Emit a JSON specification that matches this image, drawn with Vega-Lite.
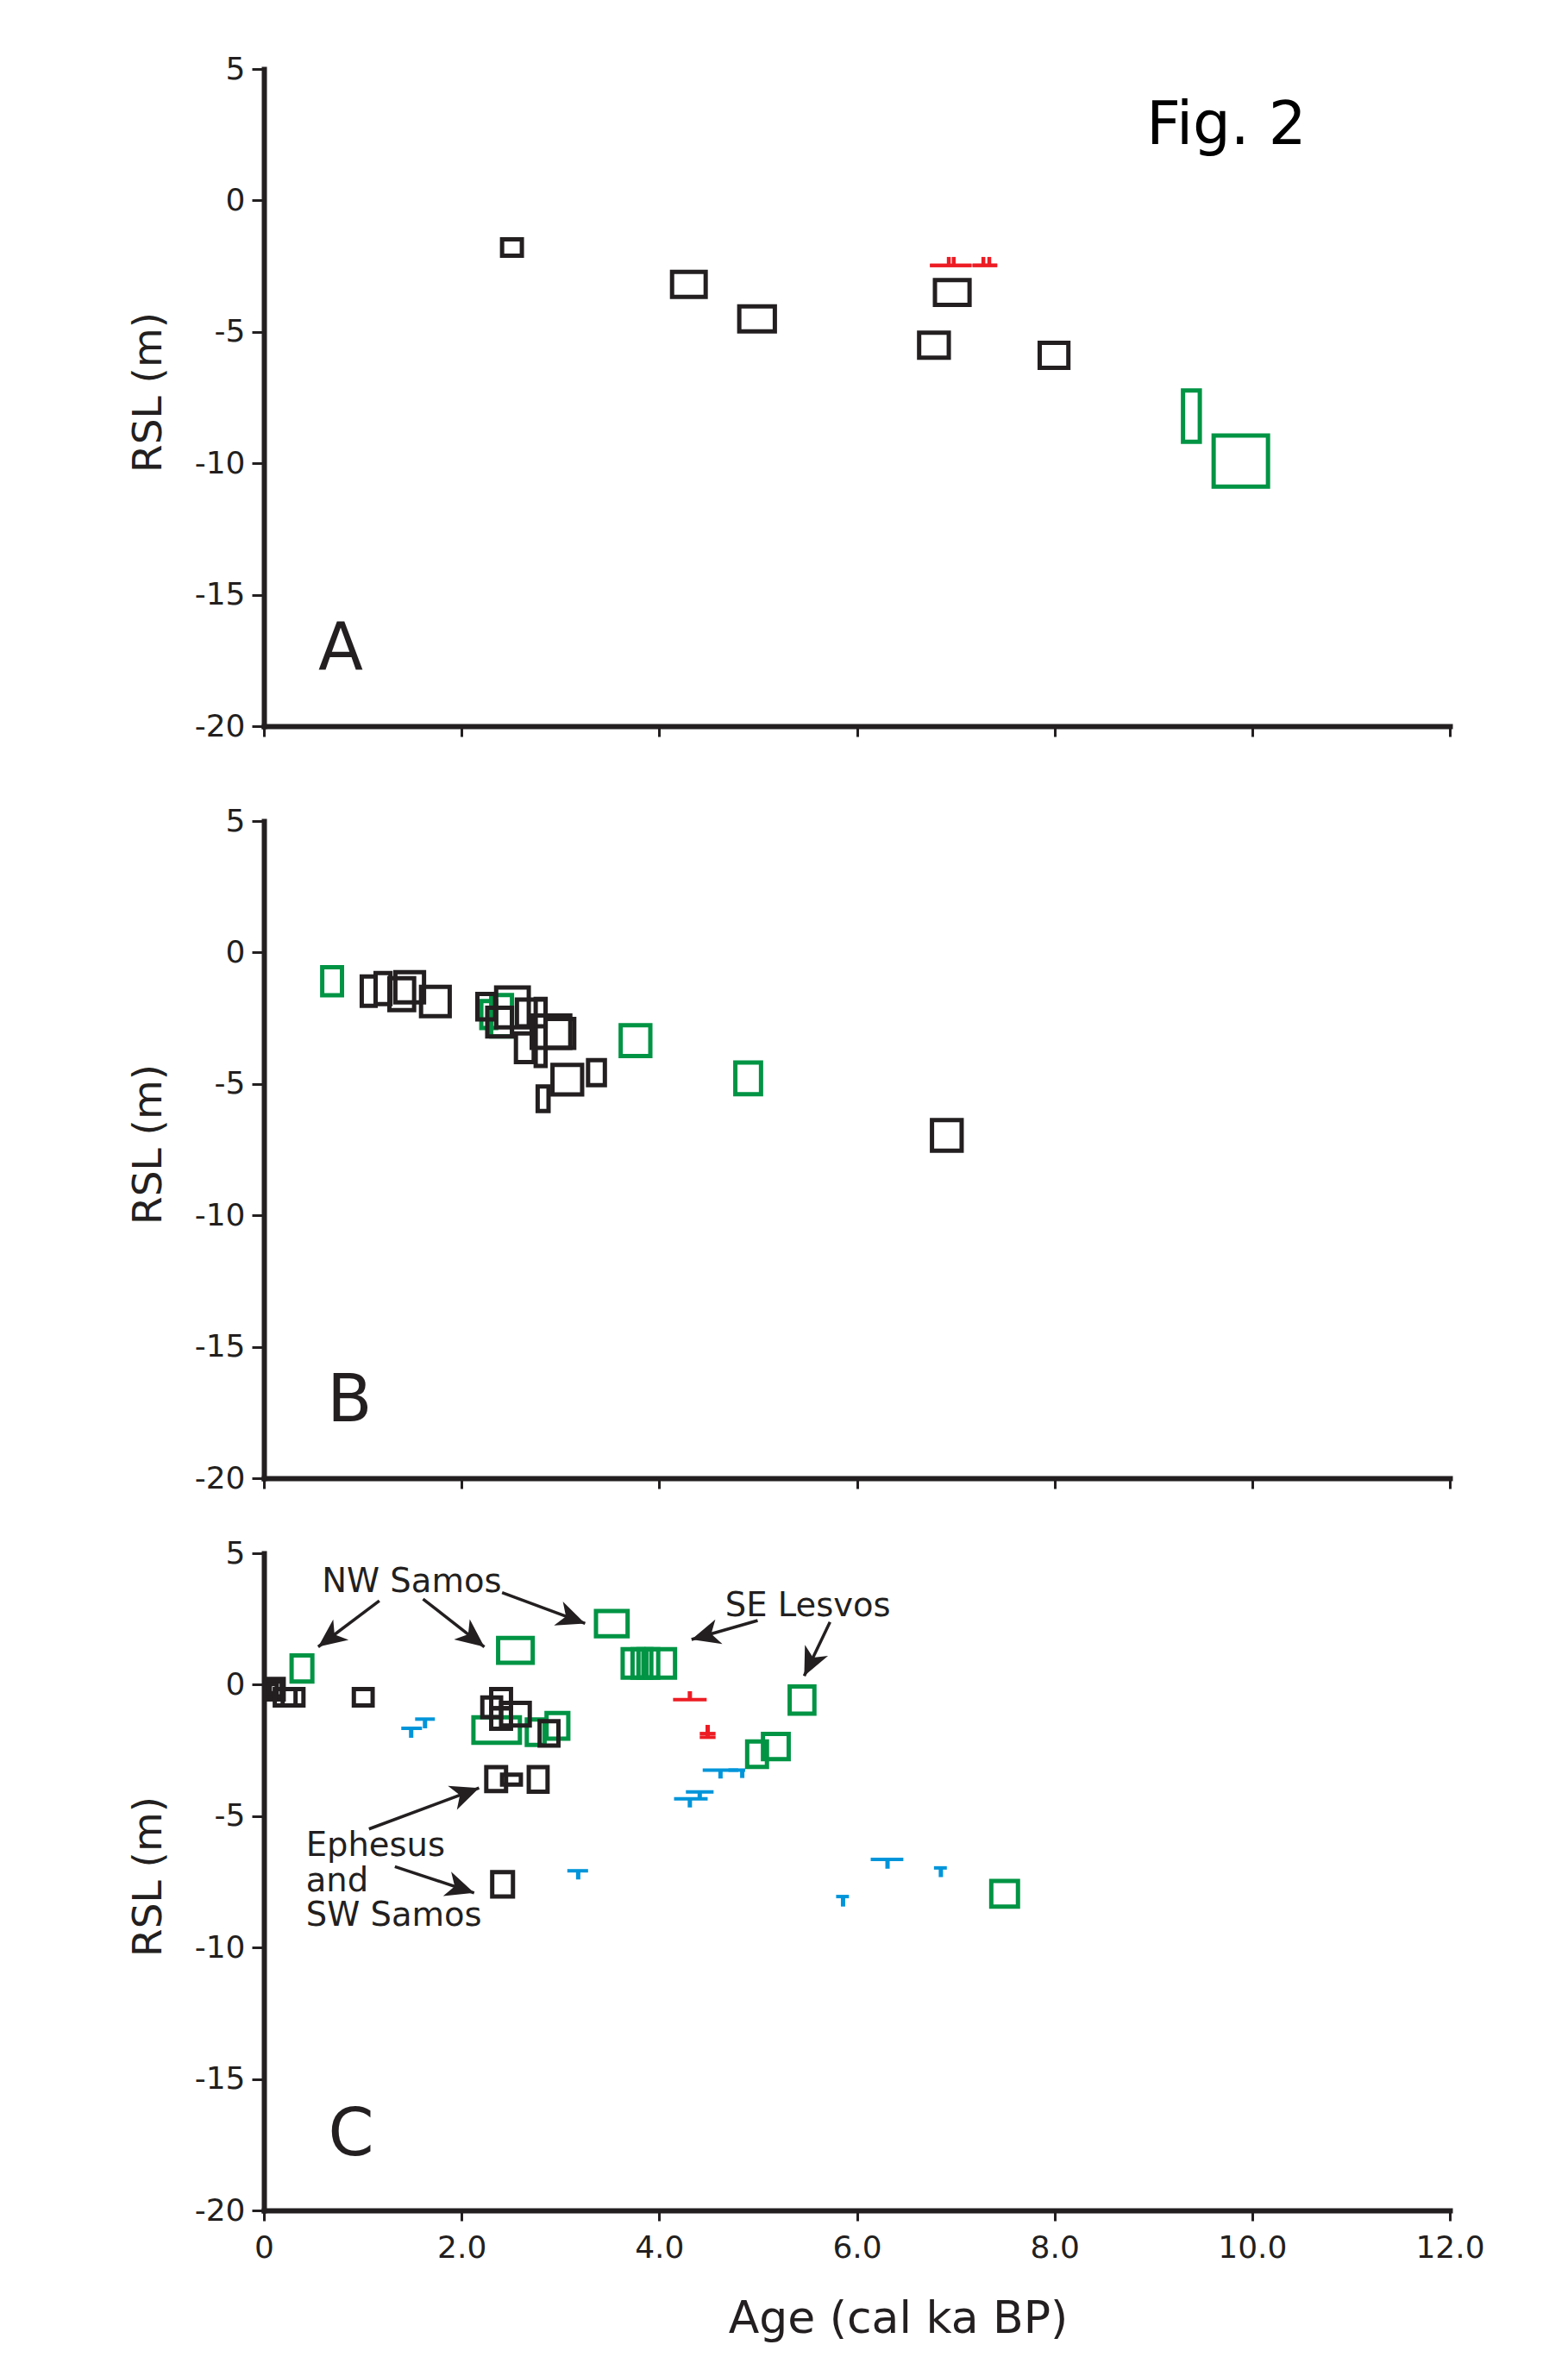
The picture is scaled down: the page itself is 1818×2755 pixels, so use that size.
{
  "$schema": "https://vega.github.io/schema/vega-lite/v6.json",
  "background": "white",
  "padding": {"left": 148, "top": 62, "right": 5, "bottom": 5},
  "spacing": 51,
  "datasets": {
    "boxes": [
      {"p":"A","g":"black","a0":2.41,"a1":2.61,"r0":-1.48,"r1":-2.10},
      {"p":"A","g":"black","a0":4.13,"a1":4.47,"r0":-2.72,"r1":-3.67},
      {"p":"A","g":"black","a0":4.81,"a1":5.17,"r0":-4.03,"r1":-4.98},
      {"p":"A","g":"black","a0":6.79,"a1":7.14,"r0":-3.03,"r1":-3.97},
      {"p":"A","g":"black","a0":6.63,"a1":6.93,"r0":-5.03,"r1":-5.98},
      {"p":"A","g":"black","a0":7.85,"a1":8.14,"r0":-5.42,"r1":-6.37},
      {"p":"A","g":"green","a0":9.30,"a1":9.47,"r0":-7.23,"r1":-9.18},
      {"p":"A","g":"green","a0":9.61,"a1":10.16,"r0":-8.94,"r1":-10.89},
      {"p":"B","g":"green","a0":0.59,"a1":0.79,"r0":-0.56,"r1":-1.63},
      {"p":"B","g":"green","a0":2.20,"a1":2.35,"r0":-1.85,"r1":-2.87},
      {"p":"B","g":"green","a0":2.30,"a1":2.51,"r0":-1.62,"r1":-3.19},
      {"p":"B","g":"green","a0":3.61,"a1":3.91,"r0":-2.77,"r1":-3.94},
      {"p":"B","g":"green","a0":4.77,"a1":5.03,"r0":-4.19,"r1":-5.39},
      {"p":"B","g":"black","a0":0.99,"a1":1.13,"r0":-0.91,"r1":-2.03},
      {"p":"B","g":"black","a0":1.13,"a1":1.28,"r0":-0.78,"r1":-1.96},
      {"p":"B","g":"black","a0":1.27,"a1":1.52,"r0":-0.98,"r1":-2.19},
      {"p":"B","g":"black","a0":1.33,"a1":1.62,"r0":-0.75,"r1":-1.90},
      {"p":"B","g":"black","a0":1.59,"a1":1.88,"r0":-1.31,"r1":-2.42},
      {"p":"B","g":"black","a0":2.16,"a1":2.34,"r0":-1.58,"r1":-2.55},
      {"p":"B","g":"black","a0":2.35,"a1":2.68,"r0":-1.33,"r1":-2.85},
      {"p":"B","g":"black","a0":2.26,"a1":2.51,"r0":-2.10,"r1":-3.19},
      {"p":"B","g":"black","a0":2.56,"a1":2.85,"r0":-1.79,"r1":-2.81},
      {"p":"B","g":"black","a0":2.75,"a1":2.85,"r0":-1.77,"r1":-4.32},
      {"p":"B","g":"black","a0":2.55,"a1":2.73,"r0":-3.08,"r1":-4.17},
      {"p":"B","g":"black","a0":2.71,"a1":3.10,"r0":-2.40,"r1":-3.63},
      {"p":"B","g":"black","a0":2.85,"a1":3.14,"r0":-2.53,"r1":-3.63},
      {"p":"B","g":"black","a0":2.92,"a1":3.22,"r0":-4.28,"r1":-5.40},
      {"p":"B","g":"black","a0":3.28,"a1":3.45,"r0":-4.10,"r1":-5.05},
      {"p":"B","g":"black","a0":2.77,"a1":2.88,"r0":-5.10,"r1":-6.03},
      {"p":"B","g":"black","a0":6.76,"a1":7.06,"r0":-6.38,"r1":-7.54},
      {"p":"C","g":"green","a0":0.28,"a1":0.49,"r0":1.11,"r1":0.12},
      {"p":"C","g":"green","a0":2.37,"a1":2.72,"r0":1.78,"r1":0.83},
      {"p":"C","g":"green","a0":3.36,"a1":3.68,"r0":2.80,"r1":1.84},
      {"p":"C","g":"green","a0":3.63,"a1":3.84,"r0":1.35,"r1":0.27},
      {"p":"C","g":"green","a0":3.73,"a1":3.92,"r0":1.35,"r1":0.27},
      {"p":"C","g":"green","a0":3.79,"a1":3.99,"r0":1.35,"r1":0.27},
      {"p":"C","g":"green","a0":3.87,"a1":4.16,"r0":1.35,"r1":0.27},
      {"p":"C","g":"green","a0":2.12,"a1":2.59,"r0":-1.24,"r1":-2.21},
      {"p":"C","g":"green","a0":2.66,"a1":2.84,"r0":-1.32,"r1":-2.29},
      {"p":"C","g":"green","a0":2.86,"a1":3.08,"r0":-1.08,"r1":-2.05},
      {"p":"C","g":"green","a0":5.32,"a1":5.57,"r0":-0.07,"r1":-1.10},
      {"p":"C","g":"green","a0":4.89,"a1":5.09,"r0":-2.16,"r1":-3.13},
      {"p":"C","g":"green","a0":5.05,"a1":5.31,"r0":-1.87,"r1":-2.83},
      {"p":"C","g":"green","a0":7.36,"a1":7.63,"r0":-7.47,"r1":-8.44},
      {"p":"C","g":"black","a0":0.02,"a1":0.20,"r0":0.22,"r1":-0.56},
      {"p":"C","g":"black","a0":0.04,"a1":0.18,"r0":0.12,"r1":-0.45},
      {"p":"C","g":"black","a0":0.06,"a1":0.13,"r0":0.02,"r1":-0.32},
      {"p":"C","g":"black","a0":0.11,"a1":0.40,"r0":-0.17,"r1":-0.79},
      {"p":"C","g":"black","a0":0.19,"a1":0.32,"r0":-0.17,"r1":-0.79},
      {"p":"C","g":"black","a0":0.91,"a1":1.10,"r0":-0.17,"r1":-0.79},
      {"p":"C","g":"black","a0":2.30,"a1":2.50,"r0":-0.17,"r1":-0.90},
      {"p":"C","g":"black","a0":2.21,"a1":2.40,"r0":-0.49,"r1":-1.23},
      {"p":"C","g":"black","a0":2.30,"a1":2.50,"r0":-0.90,"r1":-1.68},
      {"p":"C","g":"black","a0":2.40,"a1":2.69,"r0":-0.69,"r1":-1.55},
      {"p":"C","g":"black","a0":2.79,"a1":2.98,"r0":-1.39,"r1":-2.32},
      {"p":"C","g":"black","a0":2.25,"a1":2.45,"r0":-3.14,"r1":-4.05},
      {"p":"C","g":"black","a0":2.41,"a1":2.60,"r0":-3.42,"r1":-3.80},
      {"p":"C","g":"black","a0":2.68,"a1":2.87,"r0":-3.14,"r1":-4.07},
      {"p":"C","g":"black","a0":2.31,"a1":2.52,"r0":-7.13,"r1":-8.06}
    ],
    "lims": [
      {"p":"A","c":"red","a0":6.74,"a1":7.16,"r":-2.47,"am":6.93,"rt":-2.15},
      {"p":"A","c":"red","a0":6.74,"a1":7.16,"r":-2.47,"am":6.98,"rt":-2.15},
      {"p":"A","c":"red","a0":7.17,"a1":7.42,"r":-2.47,"am":7.28,"rt":-2.15},
      {"p":"A","c":"red","a0":7.17,"a1":7.42,"r":-2.47,"am":7.34,"rt":-2.15},
      {"p":"C","c":"red","a0":4.14,"a1":4.48,"r":-0.57,"am":4.31,"rt":-0.25},
      {"p":"C","c":"red","a0":4.41,"a1":4.57,"r":-1.86,"am":4.49,"rt":-1.53},
      {"p":"C","c":"red","a0":4.41,"a1":4.57,"r":-2.00,"am":4.49,"rt":-1.86},
      {"p":"C","c":"blue","a0":1.39,"a1":1.60,"r":-1.66,"am":1.49,"rt":-2.02},
      {"p":"C","c":"blue","a0":1.53,"a1":1.73,"r":-1.31,"am":1.63,"rt":-1.66},
      {"p":"C","c":"blue","a0":3.07,"a1":3.28,"r":-7.08,"am":3.18,"rt":-7.41},
      {"p":"C","c":"blue","a0":4.44,"a1":4.80,"r":-3.25,"am":4.62,"rt":-3.57},
      {"p":"C","c":"blue","a0":4.70,"a1":4.87,"r":-3.25,"am":4.84,"rt":-3.55},
      {"p":"C","c":"blue","a0":4.15,"a1":4.49,"r":-4.34,"am":4.31,"rt":-4.67},
      {"p":"C","c":"blue","a0":4.27,"a1":4.55,"r":-4.08,"am":4.41,"rt":-4.37},
      {"p":"C","c":"blue","a0":6.14,"a1":6.47,"r":-6.65,"am":6.31,"rt":-7.00},
      {"p":"C","c":"blue","a0":6.78,"a1":6.91,"r":-6.97,"am":6.85,"rt":-7.32},
      {"p":"C","c":"blue","a0":5.79,"a1":5.92,"r":-8.06,"am":5.86,"rt":-8.44}
    ],
    "notes": [
      {"p":"A","k":"letter","a":0.55,"r":-17.82,"t":"A"},
      {"p":"A","k":"fig","a":8.93,"r":2.16,"t":"Fig. 2"},
      {"p":"B","k":"letter","a":0.64,"r":-17.85,"t":"B"},
      {"p":"C","k":"letter","a":0.65,"r":-17.9,"t":"C"},
      {"p":"C","k":"note","a":0.587,"r":3.52,"t":"NW Samos"},
      {"p":"C","k":"note","a":4.667,"r":2.62,"t":"SE Lesvos"},
      {"p":"C","k":"note","a":0.425,"r":-6.50,"t":"Ephesus"},
      {"p":"C","k":"note","a":0.425,"r":-7.85,"t":"and"},
      {"p":"C","k":"note","a":0.425,"r":-9.18,"t":"SW Samos"}
    ],
    "arrows": [
      {"p":"C","a0":1.168,"r0":3.19,"a1":0.549,"r1":1.44},
      {"p":"C","a0":1.61,"r0":3.26,"a1":2.23,"r1":1.44},
      {"p":"C","a0":2.41,"r0":3.50,"a1":3.25,"r1":2.33},
      {"p":"C","a0":4.996,"r0":2.44,"a1":4.327,"r1":1.72},
      {"p":"C","a0":5.728,"r0":2.38,"a1":5.467,"r1":0.33},
      {"p":"C","a0":1.063,"r0":-5.49,"a1":2.177,"r1":-3.93},
      {"p":"C","a0":1.325,"r0":-6.92,"a1":2.127,"r1":-7.92}
    ]
  },
  "vconcat": [
    {
      "width": 1375,
      "height": 762,
      "layer": [
        {
          "data": {"name": "boxes"},
          "transform": [{"filter": "datum.p == 'A'"}],
          "mark": {"type": "rect", "filled": false, "strokeWidth": 5, "opacity": 1},
          "encoding": {
            "x": {"field": "a0", "type": "quantitative", "scale": {"domain": [0, 12], "nice": false, "zero": false},
              "axis": {"values": [0, 2, 4, 6, 8, 10, 12], "labels": false, "tickSize": 12, "title": ".", "titleColor": "#ffffff", "titleFontSize": 10, "titlePadding": 17}},
            "x2": {"field": "a1"},
            "y": {"field": "r0", "type": "quantitative", "scale": {"domain": [-20, 5], "nice": false, "zero": false},
              "axis": {"values": [5, 0, -5, -10, -15, -20], "labelExpr": "'' + datum.value", "tickSize": 14, "labelPadding": 8, "title": "RSL (m)", "titleFontSize": 47, "titleX": -120, "titleY": 374.5, "titleAlign": "center", "titleBaseline": "alphabetic", "titleAngle": 270}},
            "y2": {"field": "r1"},
            "stroke": {"field": "g", "type": "nominal", "scale": {"domain": ["black", "green"], "range": ["#231f20", "#009444"]}, "legend": null}
          }
        },
        {
          "data": {"name": "lims"},
          "transform": [{"filter": "datum.p == 'A'"}],
          "mark": {"type": "rule", "strokeWidth": 4, "strokeCap": "butt"},
          "encoding": {
            "x": {"field": "a0", "type": "quantitative", "scale": {"domain": [0, 12], "nice": false, "zero": false},
              "axis": {"values": [0, 2, 4, 6, 8, 10, 12], "labels": false, "tickSize": 12, "title": ".", "titleColor": "#ffffff", "titleFontSize": 10, "titlePadding": 17}},
            "x2": {"field": "a1"},
            "y": {"field": "r", "type": "quantitative", "scale": {"domain": [-20, 5], "nice": false, "zero": false},
              "axis": {"values": [5, 0, -5, -10, -15, -20], "labelExpr": "'' + datum.value", "tickSize": 14, "labelPadding": 8, "title": "RSL (m)", "titleFontSize": 47, "titleX": -120, "titleY": 374.5, "titleAlign": "center", "titleBaseline": "alphabetic", "titleAngle": 270}},
            "color": {"field": "c", "type": "nominal", "scale": {"domain": ["red", "blue"], "range": ["#ed1c24", "#0095da"]}, "legend": null}
          }
        },
        {
          "data": {"name": "lims"},
          "transform": [{"filter": "datum.p == 'A'"}],
          "mark": {"type": "rule", "strokeWidth": 4.5, "strokeCap": "butt"},
          "encoding": {
            "x": {"field": "am", "type": "quantitative", "scale": {"domain": [0, 12], "nice": false, "zero": false},
              "axis": {"values": [0, 2, 4, 6, 8, 10, 12], "labels": false, "tickSize": 12, "title": ".", "titleColor": "#ffffff", "titleFontSize": 10, "titlePadding": 17}},
            "y": {"field": "r", "type": "quantitative", "scale": {"domain": [-20, 5], "nice": false, "zero": false},
              "axis": {"values": [5, 0, -5, -10, -15, -20], "labelExpr": "'' + datum.value", "tickSize": 14, "labelPadding": 8, "title": "RSL (m)", "titleFontSize": 47, "titleX": -120, "titleY": 374.5, "titleAlign": "center", "titleBaseline": "alphabetic", "titleAngle": 270}},
            "y2": {"field": "rt"},
            "color": {"field": "c", "type": "nominal", "scale": {"domain": ["red", "blue"], "range": ["#ed1c24", "#0095da"]}, "legend": null}
          }
        },
        {
          "data": {"name": "notes"},
          "transform": [{"filter": "datum.p == 'A' && datum.k == 'letter'"}],
          "mark": {"type": "text", "align": "left", "baseline": "alphabetic", "font": "DejaVu Sans", "fontSize": 76, "color": "#231f20"},
          "encoding": {
            "x": {"field": "a", "type": "quantitative", "scale": {"domain": [0, 12], "nice": false, "zero": false},
              "axis": {"values": [0, 2, 4, 6, 8, 10, 12], "labels": false, "tickSize": 12, "title": ".", "titleColor": "#ffffff", "titleFontSize": 10, "titlePadding": 17}},
            "y": {"field": "r", "type": "quantitative", "scale": {"domain": [-20, 5], "nice": false, "zero": false},
              "axis": {"values": [5, 0, -5, -10, -15, -20], "labelExpr": "'' + datum.value", "tickSize": 14, "labelPadding": 8, "title": "RSL (m)", "titleFontSize": 47, "titleX": -120, "titleY": 374.5, "titleAlign": "center", "titleBaseline": "alphabetic", "titleAngle": 270}},
            "text": {"field": "t"}
          }
        },
        {
          "data": {"name": "notes"},
          "transform": [{"filter": "datum.p == 'A' && datum.k == 'fig'"}],
          "mark": {"type": "text", "align": "left", "baseline": "alphabetic", "font": "DejaVu Sans", "fontSize": 69, "color": "#000000"},
          "encoding": {
            "x": {"field": "a", "type": "quantitative", "scale": {"domain": [0, 12], "nice": false, "zero": false},
              "axis": {"values": [0, 2, 4, 6, 8, 10, 12], "labels": false, "tickSize": 12, "title": ".", "titleColor": "#ffffff", "titleFontSize": 10, "titlePadding": 17}},
            "y": {"field": "r", "type": "quantitative", "scale": {"domain": [-20, 5], "nice": false, "zero": false},
              "axis": {"values": [5, 0, -5, -10, -15, -20], "labelExpr": "'' + datum.value", "tickSize": 14, "labelPadding": 8, "title": "RSL (m)", "titleFontSize": 47, "titleX": -120, "titleY": 374.5, "titleAlign": "center", "titleBaseline": "alphabetic", "titleAngle": 270}},
            "text": {"field": "t"}
          }
        }
      ]
    },
    {
      "width": 1375,
      "height": 762,
      "layer": [
        {
          "data": {"name": "boxes"},
          "transform": [{"filter": "datum.p == 'B'"}],
          "mark": {"type": "rect", "filled": false, "strokeWidth": 5, "opacity": 1},
          "encoding": {
            "x": {"field": "a0", "type": "quantitative", "scale": {"domain": [0, 12], "nice": false, "zero": false},
              "axis": {"values": [0, 2, 4, 6, 8, 10, 12], "labels": false, "tickSize": 12, "title": null}},
            "x2": {"field": "a1"},
            "y": {"field": "r0", "type": "quantitative", "scale": {"domain": [-20, 5], "nice": false, "zero": false},
              "axis": {"values": [5, 0, -5, -10, -15, -20], "labelExpr": "'' + datum.value", "tickSize": 14, "labelPadding": 8, "title": "RSL (m)", "titleFontSize": 47, "titleX": -120, "titleY": 374.5, "titleAlign": "center", "titleBaseline": "alphabetic", "titleAngle": 270}},
            "y2": {"field": "r1"},
            "stroke": {"field": "g", "type": "nominal", "scale": {"domain": ["black", "green"], "range": ["#231f20", "#009444"]}, "legend": null}
          }
        },
        {
          "data": {"name": "notes"},
          "transform": [{"filter": "datum.p == 'B' && datum.k == 'letter'"}],
          "mark": {"type": "text", "align": "left", "baseline": "alphabetic", "font": "DejaVu Sans", "fontSize": 76, "color": "#231f20"},
          "encoding": {
            "x": {"field": "a", "type": "quantitative", "scale": {"domain": [0, 12], "nice": false, "zero": false},
              "axis": {"values": [0, 2, 4, 6, 8, 10, 12], "labels": false, "tickSize": 12, "title": null}},
            "y": {"field": "r", "type": "quantitative", "scale": {"domain": [-20, 5], "nice": false, "zero": false},
              "axis": {"values": [5, 0, -5, -10, -15, -20], "labelExpr": "'' + datum.value", "tickSize": 14, "labelPadding": 8, "title": "RSL (m)", "titleFontSize": 47, "titleX": -120, "titleY": 374.5, "titleAlign": "center", "titleBaseline": "alphabetic", "titleAngle": 270}},
            "text": {"field": "t"}
          }
        }
      ]
    },
    {
      "width": 1375,
      "height": 762,
      "layer": [
        {
          "data": {"name": "boxes"},
          "transform": [{"filter": "datum.p == 'C'"}],
          "mark": {"type": "rect", "filled": false, "strokeWidth": 5, "opacity": 1},
          "encoding": {
            "x": {"field": "a0", "type": "quantitative", "scale": {"domain": [0, 12], "nice": false, "zero": false},
              "axis": {"values": [0, 2, 4, 6, 8, 10, 12], "labelExpr": "datum.value == 0 ? '0' : format(datum.value, '.1f')", "tickSize": 12, "labelPadding": 14, "title": "Age (cal ka BP)", "titleFontSize": 52, "titleX": 735, "titleY": 141, "titleAlign": "center", "titleBaseline": "alphabetic"}},
            "x2": {"field": "a1"},
            "y": {"field": "r0", "type": "quantitative", "scale": {"domain": [-20, 5], "nice": false, "zero": false},
              "axis": {"values": [5, 0, -5, -10, -15, -20], "labelExpr": "'' + datum.value", "tickSize": 14, "labelPadding": 8, "title": "RSL (m)", "titleFontSize": 47, "titleX": -120, "titleY": 374.5, "titleAlign": "center", "titleBaseline": "alphabetic", "titleAngle": 270}},
            "y2": {"field": "r1"},
            "stroke": {"field": "g", "type": "nominal", "scale": {"domain": ["black", "green"], "range": ["#231f20", "#009444"]}, "legend": null}
          }
        },
        {
          "data": {"name": "lims"},
          "transform": [{"filter": "datum.p == 'C'"}],
          "mark": {"type": "rule", "strokeWidth": 4, "strokeCap": "butt"},
          "encoding": {
            "x": {"field": "a0", "type": "quantitative", "scale": {"domain": [0, 12], "nice": false, "zero": false},
              "axis": {"values": [0, 2, 4, 6, 8, 10, 12], "labelExpr": "datum.value == 0 ? '0' : format(datum.value, '.1f')", "tickSize": 12, "labelPadding": 14, "title": "Age (cal ka BP)", "titleFontSize": 52, "titleX": 735, "titleY": 141, "titleAlign": "center", "titleBaseline": "alphabetic"}},
            "x2": {"field": "a1"},
            "y": {"field": "r", "type": "quantitative", "scale": {"domain": [-20, 5], "nice": false, "zero": false},
              "axis": {"values": [5, 0, -5, -10, -15, -20], "labelExpr": "'' + datum.value", "tickSize": 14, "labelPadding": 8, "title": "RSL (m)", "titleFontSize": 47, "titleX": -120, "titleY": 374.5, "titleAlign": "center", "titleBaseline": "alphabetic", "titleAngle": 270}},
            "color": {"field": "c", "type": "nominal", "scale": {"domain": ["red", "blue"], "range": ["#ed1c24", "#0095da"]}, "legend": null}
          }
        },
        {
          "data": {"name": "lims"},
          "transform": [{"filter": "datum.p == 'C'"}],
          "mark": {"type": "rule", "strokeWidth": 5, "strokeCap": "butt"},
          "encoding": {
            "x": {"field": "am", "type": "quantitative", "scale": {"domain": [0, 12], "nice": false, "zero": false},
              "axis": {"values": [0, 2, 4, 6, 8, 10, 12], "labelExpr": "datum.value == 0 ? '0' : format(datum.value, '.1f')", "tickSize": 12, "labelPadding": 14, "title": "Age (cal ka BP)", "titleFontSize": 52, "titleX": 735, "titleY": 141, "titleAlign": "center", "titleBaseline": "alphabetic"}},
            "y": {"field": "r", "type": "quantitative", "scale": {"domain": [-20, 5], "nice": false, "zero": false},
              "axis": {"values": [5, 0, -5, -10, -15, -20], "labelExpr": "'' + datum.value", "tickSize": 14, "labelPadding": 8, "title": "RSL (m)", "titleFontSize": 47, "titleX": -120, "titleY": 374.5, "titleAlign": "center", "titleBaseline": "alphabetic", "titleAngle": 270}},
            "y2": {"field": "rt"},
            "color": {"field": "c", "type": "nominal", "scale": {"domain": ["red", "blue"], "range": ["#ed1c24", "#0095da"]}, "legend": null}
          }
        },
        {
          "data": {"name": "arrows"},
          "transform": [{"filter": "datum.p == 'C'"}],
          "mark": {"type": "rule", "strokeWidth": 3.5, "color": "#231f20", "strokeCap": "butt"},
          "encoding": {
            "x": {"field": "a0", "type": "quantitative", "scale": {"domain": [0, 12], "nice": false, "zero": false},
              "axis": {"values": [0, 2, 4, 6, 8, 10, 12], "labelExpr": "datum.value == 0 ? '0' : format(datum.value, '.1f')", "tickSize": 12, "labelPadding": 14, "title": "Age (cal ka BP)", "titleFontSize": 52, "titleX": 735, "titleY": 141, "titleAlign": "center", "titleBaseline": "alphabetic"}},
            "y": {"field": "r0", "type": "quantitative", "scale": {"domain": [-20, 5], "nice": false, "zero": false},
              "axis": {"values": [5, 0, -5, -10, -15, -20], "labelExpr": "'' + datum.value", "tickSize": 14, "labelPadding": 8, "title": "RSL (m)", "titleFontSize": 47, "titleX": -120, "titleY": 374.5, "titleAlign": "center", "titleBaseline": "alphabetic", "titleAngle": 270}},
            "x2": {"field": "a1"},
            "y2": {"field": "r1"}
          }
        },
        {
          "data": {"name": "arrows"},
          "transform": [{"filter": "datum.p == 'C'"}],
          "mark": {"type": "point", "shape": "M0,0L0.72,1.6L0,1.15L-0.72,1.6Z", "size": 1700, "filled": true, "opacity": 1, "color": "#231f20", "strokeWidth": 0,
            "angle": {"expr": "atan2((datum.a1 - datum.a0) * 114.58, (datum.r1 - datum.r0) * 30.48) * 180 / PI"}},
          "encoding": {
            "x": {"field": "a1", "type": "quantitative", "scale": {"domain": [0, 12], "nice": false, "zero": false},
              "axis": {"values": [0, 2, 4, 6, 8, 10, 12], "labelExpr": "datum.value == 0 ? '0' : format(datum.value, '.1f')", "tickSize": 12, "labelPadding": 14, "title": "Age (cal ka BP)", "titleFontSize": 52, "titleX": 735, "titleY": 141, "titleAlign": "center", "titleBaseline": "alphabetic"}},
            "y": {"field": "r1", "type": "quantitative", "scale": {"domain": [-20, 5], "nice": false, "zero": false},
              "axis": {"values": [5, 0, -5, -10, -15, -20], "labelExpr": "'' + datum.value", "tickSize": 14, "labelPadding": 8, "title": "RSL (m)", "titleFontSize": 47, "titleX": -120, "titleY": 374.5, "titleAlign": "center", "titleBaseline": "alphabetic", "titleAngle": 270}}
          }
        },
        {
          "data": {"name": "notes"},
          "transform": [{"filter": "datum.p == 'C' && datum.k == 'letter'"}],
          "mark": {"type": "text", "align": "left", "baseline": "alphabetic", "font": "DejaVu Sans", "fontSize": 76, "color": "#231f20"},
          "encoding": {
            "x": {"field": "a", "type": "quantitative", "scale": {"domain": [0, 12], "nice": false, "zero": false},
              "axis": {"values": [0, 2, 4, 6, 8, 10, 12], "labelExpr": "datum.value == 0 ? '0' : format(datum.value, '.1f')", "tickSize": 12, "labelPadding": 14, "title": "Age (cal ka BP)", "titleFontSize": 52, "titleX": 735, "titleY": 141, "titleAlign": "center", "titleBaseline": "alphabetic"}},
            "y": {"field": "r", "type": "quantitative", "scale": {"domain": [-20, 5], "nice": false, "zero": false},
              "axis": {"values": [5, 0, -5, -10, -15, -20], "labelExpr": "'' + datum.value", "tickSize": 14, "labelPadding": 8, "title": "RSL (m)", "titleFontSize": 47, "titleX": -120, "titleY": 374.5, "titleAlign": "center", "titleBaseline": "alphabetic", "titleAngle": 270}},
            "text": {"field": "t"}
          }
        },
        {
          "data": {"name": "notes"},
          "transform": [{"filter": "datum.p == 'C' && datum.k == 'note'"}],
          "mark": {"type": "text", "align": "left", "baseline": "alphabetic", "font": "DejaVu Sans", "fontSize": 38.5, "color": "#231f20"},
          "encoding": {
            "x": {"field": "a", "type": "quantitative", "scale": {"domain": [0, 12], "nice": false, "zero": false},
              "axis": {"values": [0, 2, 4, 6, 8, 10, 12], "labelExpr": "datum.value == 0 ? '0' : format(datum.value, '.1f')", "tickSize": 12, "labelPadding": 14, "title": "Age (cal ka BP)", "titleFontSize": 52, "titleX": 735, "titleY": 141, "titleAlign": "center", "titleBaseline": "alphabetic"}},
            "y": {"field": "r", "type": "quantitative", "scale": {"domain": [-20, 5], "nice": false, "zero": false},
              "axis": {"values": [5, 0, -5, -10, -15, -20], "labelExpr": "'' + datum.value", "tickSize": 14, "labelPadding": 8, "title": "RSL (m)", "titleFontSize": 47, "titleX": -120, "titleY": 374.5, "titleAlign": "center", "titleBaseline": "alphabetic", "titleAngle": 270}},
            "text": {"field": "t"}
          }
        }
      ]
    }
  ],
  "config": {
    "view": {"stroke": null},
    "font": "DejaVu Sans",
    "axis": {
      "domainColor": "#231f20",
      "domainWidth": 6,
      "domainCap": "square",
      "tickColor": "#231f20",
      "tickWidth": 3,
      "labelColor": "#231f20",
      "labelFont": "DejaVu Sans",
      "labelFontSize": 36,
      "titleFont": "DejaVu Sans",
      "titleColor": "#231f20",
      "titleFontWeight": "normal",
      "grid": false,
      "labelFlush": false,
      "labelOverlap": false,
      "labelBound": false
    }
  }
}
